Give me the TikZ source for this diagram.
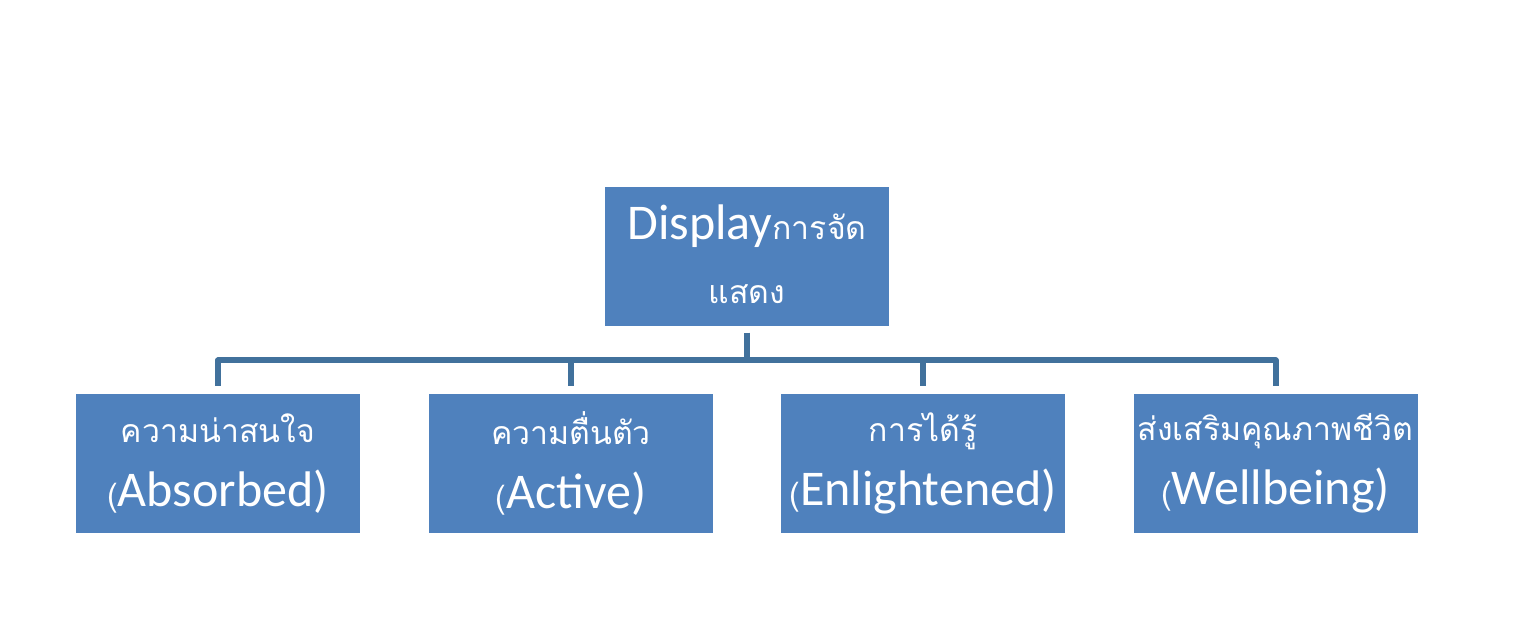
\documentclass[tikz,border=0pt]{standalone}
\usepackage{fontspec}
\setmainfont{Carlito}
\newfontfamily\thaifont[Script=Thai]{Loma}
\newcommand\thaitext[1]{{\thaifont\fontsize{32}{64}\selectfont #1}}
\definecolor{boxblue}{HTML}{4F81BD}
\definecolor{linkblue}{HTML}{41719C}
\begin{document}
\begin{tikzpicture}[x=1pt,y=-1pt,
  box/.style={fill=boxblue, minimum width=284pt, minimum height=139pt, inner sep=0pt,
    text=white, align=center, font=\fontsize{50}{64}\selectfont},
  link/.style={draw=linkblue, line width=6pt, line join=round}]
\fill[white] (0,0) rectangle (1516,617);
\node[box] (top) at (747,257) {\raisebox{5pt}{Display\thaitext{การจัด}}\\\raisebox{5pt}{\thaitext{แสดง}}};
\node[box] (b1) at (218,463.5) {\thaitext{ความน่าสนใจ}\\\thaitext{(}Absorbed)};
\node[box] (b2) at (571,463.5) {\thaitext{ความตื่นตัว}\\\thaitext{(}Active)};
\node[box] (b3) at (923,463.5) {\thaitext{การได้รู้}\\\thaitext{(}Enlightened)};
\node[box] (b4) at (1275.5,463.5) {\thaitext{ส่งเสริมคุณภาพชีวิต}\\\thaitext{(}Wellbeing)};
\coordinate (hub) at (747,360.5);
\draw[link] ([yshift=-6pt]top.south) -- (hub);
\draw[link] ([yshift=8pt]b1.north) |- (hub) -| ([yshift=8pt]b4.north);
\draw[link] ([yshift=8pt]b2.north) -- (b2.north |- hub);
\draw[link] ([yshift=8pt]b3.north) -- (b3.north |- hub);
\end{tikzpicture}
\end{document}
